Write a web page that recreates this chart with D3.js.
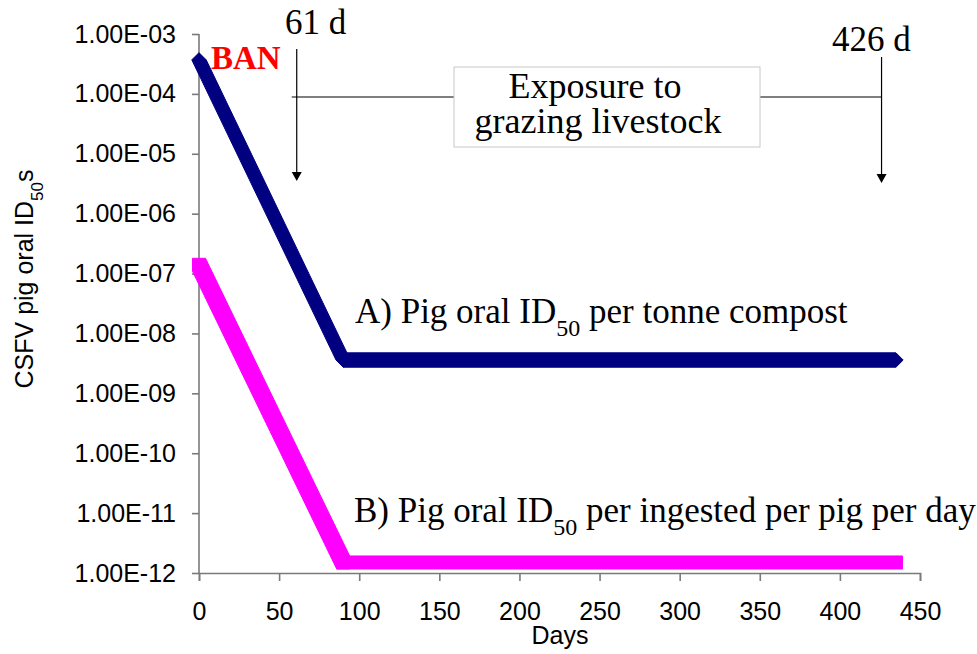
<!DOCTYPE html>
<html>
<head>
<meta charset="utf-8">
<script src="https://cdn.jsdelivr.net/npm/d3@7"></script>
<style>
  html, body { margin: 0; padding: 0; background: #fff; }
  svg { display: block; }
</style>
</head>
<body>
<svg id="chart" width="977" height="654"></svg>
<script>
// Key points of the two decay curves (day, ID50 value)
const days = [0, 90, 435];
const seriesA = [3.7e-4, 3.6e-9, 3.6e-9];   // per tonne compost
const seriesB = [1.4e-7, 1.5e-12, 1.5e-12]; // ingested per pig per day

const xTicks = [0, 50, 100, 150, 200, 250, 300, 350, 400, 450];
const yTicks = [1e-3, 1e-4, 1e-5, 1e-6, 1e-7, 1e-8, 1e-9, 1e-10, 1e-11, 1e-12];
const yTickLabels = ["1.00E-03", "1.00E-04", "1.00E-05", "1.00E-06", "1.00E-07",
                     "1.00E-08", "1.00E-09", "1.00E-10", "1.00E-11", "1.00E-12"];

// Exposure window annotation (days)
const exposureStart = 61;
const exposureEnd = 426;

const svg = d3.select("#chart");
svg.append("rect").attr("width", 977).attr("height", 654).attr("fill", "#fff");

const x = d3.scaleLinear().domain([0, 450]).range([199, 920]);
const y = d3.scaleLog().domain([1e-12, 1e-3]).range([573, 34]);

const sansFont = "'Liberation Sans', Arial, sans-serif";
const serifFont = "'Liberation Serif', 'Times New Roman', serif";
const axisColor = "#7a7a7a";

// Axes
const yAxis = svg.append("g")
  .attr("transform", `translate(${x(0)},0)`)
  .call(d3.axisLeft(y).tickValues(yTicks)
    .tickFormat((d, i) => yTickLabels[i]).tickSize(7).tickPadding(16));
const xAxis = svg.append("g")
  .attr("transform", `translate(0,${y(1e-12)})`)
  .call(d3.axisBottom(x).tickValues(xTicks).tickSize(8).tickSizeOuter(8));

[yAxis, xAxis].forEach(g => {
  g.select(".domain").attr("stroke", axisColor).attr("stroke-width", 1.6);
  g.selectAll(".tick line").attr("stroke", axisColor).attr("stroke-width", 1.6);
  g.selectAll(".tick text")
    .attr("fill", "#000")
    .style("font-family", sansFont)
    .style("font-size", "25px");
});
xAxis.selectAll(".tick text").attr("y", 29).attr("dy", "0.71em");
yAxis.select(".domain").attr("d", `M0,${y(1e-3)}V${y(1e-12)}`);

// Axis titles
const yTitle = svg.append("text")
  .attr("transform", `translate(33,279) rotate(-90)`)
  .attr("text-anchor", "middle")
  .style("font-family", sansFont).style("font-size", "25px");
yTitle.append("tspan").text("CSFV pig oral ID");
yTitle.append("tspan").attr("baseline-shift", "sub").style("font-size", "17px").text("50");
yTitle.append("tspan").text("s");

svg.append("text")
  .attr("x", 560).attr("y", 644)
  .attr("text-anchor", "middle")
  .style("font-family", sansFont).style("font-size", "25px")
  .text("Days");

// Marker outlines in pixel space
const diamond = (cx, cy, a) => [[cx - a, cy], [cx, cy - a], [cx + a, cy], [cx, cy + a]];
const square = (cx, cy, s) => [[cx - s, cy - s], [cx + s, cy - s], [cx + s, cy + s], [cx - s, cy + s]];

// Draw a series as the sweep of its marker between consecutive points
function drawSeries(values, color, shape, size) {
  const pts = days.map((d, i) => [x(d), y(values[i])]);
  const g = svg.append("g");
  for (let i = 0; i < pts.length - 1; i++) {
    const corners = shape(pts[i][0], pts[i][1], size)
      .concat(shape(pts[i + 1][0], pts[i + 1][1], size));
    const hull = d3.polygonHull(corners);
    g.append("path")
      .attr("d", "M" + hull.join("L") + "Z")
      .attr("fill", color)
      .attr("stroke", color)
      .attr("stroke-width", 1)
      .attr("stroke-linejoin", "round");
  }
}

drawSeries(seriesB, "#ff00ff", square, 6.5);
drawSeries(seriesA, "#000080", diamond, 7.2);

// Series labels
function seriesLabel(letter, rest, xPos, yPos) {
  const t = svg.append("text")
    .attr("x", xPos).attr("y", yPos)
    .style("font-family", serifFont).style("font-size", "35px");
  t.append("tspan").text(letter + ") Pig oral ID");
  t.append("tspan").attr("baseline-shift", "sub").style("font-size", "24px").text("50");
  t.append("tspan").text(" " + rest);
}
seriesLabel("A", "per tonne compost", 355, 323);
seriesLabel("B", "per ingested per pig per day", 354, 522);

// BAN marker text
svg.append("text")
  .attr("x", 211).attr("y", 69)
  .attr("fill", "#ff0000")
  .style("font-family", serifFont).style("font-size", "33px").style("font-weight", "bold")
  .text("BAN");

// Exposure window annotation
const xs = x(exposureStart), xe = x(exposureEnd);
const lineY = 97;
svg.append("line").attr("x1", xs).attr("x2", xs).attr("y1", 49).attr("y2", 172)
  .attr("stroke", "#000").attr("stroke-width", 1.2);
svg.append("path").attr("d", `M${xs - 5},172l5,9l5,-9Z`).attr("fill", "#000");
svg.append("line").attr("x1", xe).attr("x2", xe).attr("y1", 57).attr("y2", 174)
  .attr("stroke", "#000").attr("stroke-width", 1.2);
svg.append("path").attr("d", `M${xe - 5},174l5,9l5,-9Z`).attr("fill", "#000");

svg.append("line").attr("x1", xs - 5).attr("x2", 454).attr("y1", lineY).attr("y2", lineY)
  .attr("stroke", "#000").attr("stroke-width", 1.2);
svg.append("line").attr("x1", 760).attr("x2", xe).attr("y1", lineY).attr("y2", lineY)
  .attr("stroke", "#000").attr("stroke-width", 1.2);

svg.append("rect")
  .attr("x", 454).attr("y", 67).attr("width", 306).attr("height", 80)
  .attr("fill", "#fff").attr("stroke", "#c8c8c8").attr("stroke-width", 1);
const boxText = svg.append("text")
  .attr("text-anchor", "middle")
  .style("font-family", serifFont).style("font-size", "36px");
boxText.append("tspan").attr("x", 595).attr("y", 98).text("Exposure to");
boxText.append("tspan").attr("x", 598).attr("y", 133).text("grazing livestock");

svg.append("text")
  .attr("x", 285).attr("y", 34)
  .style("font-family", serifFont).style("font-size", "35px")
  .text(exposureStart + " d");
svg.append("text")
  .attr("x", 832).attr("y", 51)
  .style("font-family", serifFont).style("font-size", "35px")
  .text(exposureEnd + " d");
</script>
</body>
</html>
